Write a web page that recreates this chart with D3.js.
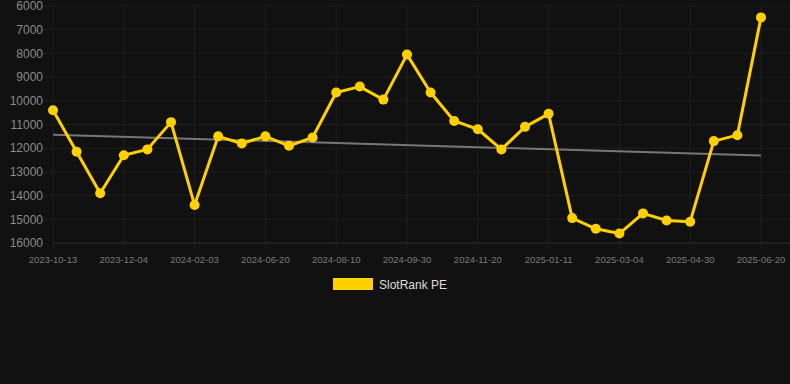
<!DOCTYPE html>
<html>
<head>
<meta charset="utf-8">
<script src="https://cdn.jsdelivr.net/npm/d3@7"></script>
<style>
  html, body { margin: 0; padding: 0; background: #111111; }
  svg { display: block; }
</style>
</head>
<body>
<svg id="chart" width="790" height="384"></svg>
<script>
// dates (only every third one is shown on the axis)
var dates = [
    "2023-10-13", "2023-10-30", "2023-11-17", "2023-12-04", "2023-12-24", "2024-01-13",
    "2024-02-03", "2024-03-20", "2024-05-05", "2024-06-20", "2024-07-07", "2024-07-24",
    "2024-08-10", "2024-08-27", "2024-09-13", "2024-09-30", "2024-10-17", "2024-11-03",
    "2024-11-20", "2024-12-07", "2024-12-24", "2025-01-11", "2025-01-28", "2025-02-15",
    "2025-03-04", "2025-03-23", "2025-04-11", "2025-04-30", "2025-05-17", "2025-06-03",
    "2025-06-20"
];
var rankValues = [
    10400, 12150, 13900, 12300, 12050, 10900,
    14400, 11500, 11800, 11500, 11900, 11550,
    9650, 9400, 9950, 8050, 9650, 10850,
    11200, 12050, 11100, 10550, 14950, 15400,
    15600, 14750, 15050, 15100, 11700, 11450,
    6480
];
var trendValues = [11430, 12310];
var yTicks = [6000, 7000, 8000, 9000, 10000, 11000, 12000, 13000, 14000, 15000, 16000];
var seriesName = "SlotRank PE";

var svg = d3.select("#chart");
var margin = {top: 6, right: 29, bottom: 141, left: 53};
var width = 790, height = 384;

var x = d3.scalePoint()
          .domain(dates)
          .range([margin.left, width - margin.right]);

var y = d3.scaleLinear()
          .domain([6000, 16000])
          .range([margin.top, height - margin.bottom]);

var shownDates = dates.filter(function(d, i) { return i % 3 === 0; });

// grid
var grid = svg.append("g");
grid.selectAll(".hgrid").data(yTicks).enter().append("line")
    .attr("x1", function(d) { return d === 16000 ? margin.left : 44; })
    .attr("x2", width)
    .attr("y1", function(d) { return y(d); })
    .attr("y2", function(d) { return y(d); })
    .attr("stroke", function(d) { return d === 16000 ? "#2e2e2e" : "#1f1f1f"; })
    .attr("stroke-width", 1);
grid.selectAll(".vgrid").data(shownDates).enter().append("line")
    .attr("x1", function(d) { return x(d); })
    .attr("x2", function(d) { return x(d); })
    .attr("y1", margin.top).attr("y2", y(16000) + 6)
    .attr("stroke", "#1f1f1f")
    .attr("stroke-width", 1);

// y axis labels
svg.append("g").selectAll("text").data(yTicks).enter().append("text")
    .attr("x", 43)
    .attr("y", function(d) { return y(d); })
    .attr("dy", "0.35em")
    .attr("text-anchor", "end")
    .attr("fill", "#8a8a8a")
    .style("font", "12px 'Liberation Sans', Arial, sans-serif")
    .text(function(d) { return d; });

// x axis labels
svg.append("g").selectAll("text").data(shownDates).enter().append("text")
    .attr("x", function(d) { return x(d); })
    .attr("y", y(16000) + 19.5)
    .attr("text-anchor", "middle")
    .attr("fill", "#7a7a7a")
    .style("font", "9.5px 'Liberation Sans', Arial, sans-serif")
    .text(function(d) { return d; });

// trend line
svg.append("line")
    .attr("x1", x(dates[0])).attr("y1", y(trendValues[0]))
    .attr("x2", x(dates[dates.length - 1])).attr("y2", y(trendValues[1]))
    .attr("stroke", "#777777")
    .attr("stroke-width", 2);

// series line
var line = d3.line()
    .x(function(d, i) { return x(dates[i]); })
    .y(function(d) { return y(d); });

svg.append("path")
    .datum(rankValues)
    .attr("d", line)
    .attr("fill", "none")
    .attr("stroke", "#ffd000")
    .attr("stroke-width", 3)
    .attr("stroke-linejoin", "round");

svg.append("g").selectAll("circle").data(rankValues).enter().append("circle")
    .attr("cx", function(d, i) { return x(dates[i]); })
    .attr("cy", function(d) { return y(d); })
    .attr("r", 5)
    .attr("fill", "#ffd000");

// legend
var legend = svg.append("g");
legend.append("rect")
    .attr("x", 333).attr("y", 278)
    .attr("width", 40).attr("height", 12)
    .attr("fill", "#ffd000");
legend.append("text")
    .attr("x", 379).attr("y", 285)
    .attr("dy", "0.35em")
    .attr("fill", "#dddddd")
    .style("font", "12px 'Liberation Sans', Arial, sans-serif")
    .text(seriesName);
</script>
</body>
</html>
